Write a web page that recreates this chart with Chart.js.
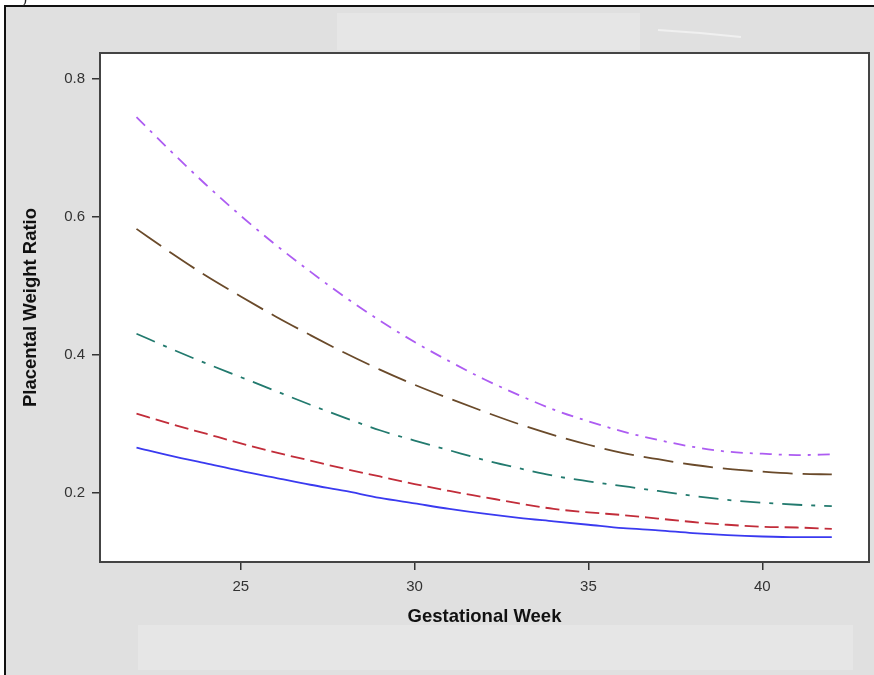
<!DOCTYPE html>
<html>
<head>
<meta charset="utf-8">
<title>Placental Weight Ratio by Gestational Week</title>
<script src="https://cdn.jsdelivr.net/npm/chart.js@4.4.1/dist/chart.umd.min.js"></script>
<style>
    body { margin: 0; background: #ffffff; }
    #wrap { position: relative; width: 874px; height: 675px; overflow: hidden; }
    #chart { position: absolute; left: 0; top: 0; }
    #paren { position: absolute; left: 22px; top: -10px; font: 15px "Liberation Serif", serif; color: #222; }
</style>
</head>
<body>
<div id="wrap">
    <canvas id="chart" width="874" height="675"></canvas>
    <span id="paren">)</span>
</div>
<script>
// Gestational weeks on the x axis
const weeks = [22, 23, 24, 25, 26, 27, 28, 29, 30, 31, 32, 33, 34, 35, 36, 37, 38, 39, 40, 41, 42];

// Placental weight ratio curves, lowest to highest
const curveA = [0.266, 0.254, 0.243, 0.232, 0.222, 0.212, 0.203, 0.193, 0.185, 0.177, 0.170,
                0.164, 0.159, 0.154, 0.149, 0.146, 0.142, 0.139, 0.137, 0.136, 0.136];
const curveB = [0.315, 0.300, 0.286, 0.272, 0.259, 0.247, 0.235, 0.224, 0.213, 0.203, 0.194,
                0.185, 0.177, 0.172, 0.168, 0.163, 0.158, 0.154, 0.151, 0.150, 0.148];
const curveC = [0.431, 0.409, 0.388, 0.368, 0.348, 0.328, 0.309, 0.291, 0.276, 0.262, 0.248,
                0.236, 0.225, 0.217, 0.210, 0.203, 0.196, 0.190, 0.186, 0.183, 0.181];
const curveD = [0.583, 0.548, 0.515, 0.485, 0.456, 0.429, 0.403, 0.379, 0.357, 0.337, 0.318,
                0.300, 0.284, 0.270, 0.258, 0.249, 0.241, 0.235, 0.231, 0.228, 0.227];
const curveE = [0.745, 0.695, 0.647, 0.602, 0.560, 0.521, 0.484, 0.450, 0.419, 0.391, 0.365,
                0.342, 0.321, 0.304, 0.289, 0.277, 0.267, 0.260, 0.257, 0.255, 0.256];

const xTicks = [25, 30, 35, 40];
const yTicks = [0.2, 0.4, 0.6, 0.8];

function toPoints(values) {
    return weeks.map((w, i) => ({ x: w, y: values[i] }));
}

function makeSeries(values, color, dash) {
    return {
        data: toPoints(values),
        borderColor: color,
        borderWidth: 1.8,
        borderDash: dash,
        pointRadius: 0,
        fill: false,
        cubicInterpolationMode: 'monotone'
    };
}

// Gray panel, outer frame and the white plotting box
const panel = {
    id: 'panel',
    beforeDraw(chart) {
        const ctx = chart.ctx;
        const a = chart.chartArea;
        ctx.save();
        ctx.fillStyle = '#ffffff';
        ctx.fillRect(0, 0, chart.width, chart.height);
        ctx.fillStyle = '#e0e0e0';
        ctx.fillRect(5, 6, chart.width, chart.height);
        ctx.fillStyle = '#e6e6e6';
        ctx.fillRect(337, 13, 303, 37);
        ctx.fillRect(138, 625, 715, 45);
        ctx.strokeStyle = '#f0f0f0';
        ctx.lineWidth = 2;
        ctx.beginPath();
        ctx.moveTo(658, 30);
        ctx.lineTo(700, 33);
        ctx.lineTo(741, 37);
        ctx.stroke();
        ctx.strokeStyle = '#111111';
        ctx.lineWidth = 2;
        ctx.beginPath();
        ctx.moveTo(5, chart.height);
        ctx.lineTo(5, 6);
        ctx.lineTo(chart.width, 6);
        ctx.stroke();
        ctx.fillStyle = '#ffffff';
        ctx.fillRect(a.left, a.top, a.right - a.left, a.bottom - a.top);
        ctx.restore();
    },
    afterDatasetsDraw(chart) {
        const ctx = chart.ctx;
        const a = chart.chartArea;
        ctx.save();
        ctx.strokeStyle = '#444444';
        ctx.lineWidth = 2;
        ctx.strokeRect(a.left, a.top, a.right - a.left, a.bottom - a.top);
        ctx.restore();
    }
};

const tickFont = { family: '"Liberation Sans", Arial, sans-serif', size: 15 };
const titleFont = { family: '"Liberation Sans", Arial, sans-serif', size: 18.5, weight: 'bold' };

new Chart(document.getElementById('chart'), {
    type: 'line',
    data: {
        datasets: [
            makeSeries(curveA, '#3a3af0', []),
            makeSeries(curveB, '#c22d3a', [14, 6]),
            makeSeries(curveC, '#227a6e', [20, 9, 4, 9]),
            makeSeries(curveD, '#6a4a2a', [30, 10]),
            makeSeries(curveE, '#ad5cf2', [12, 7, 3, 7])
        ]
    },
    options: {
        responsive: false,
        animation: false,
        layout: { padding: { left: 0, top: 53, right: 5, bottom: 40 } },
        plugins: {
            legend: { display: false },
            tooltip: { enabled: false }
        },
        scales: {
            x: {
                type: 'linear',
                min: 20.95,
                max: 43.07,
                afterBuildTicks: (axis) => { axis.ticks = xTicks.map(v => ({ value: v })); },
                afterFit: (axis) => { axis.height = 675 - 40 - 562; },
                border: { display: false },
                grid: { drawOnChartArea: false, drawTicks: true, tickLength: 8, color: '#333333', lineWidth: 1.5 },
                ticks: { font: tickFont, color: '#333333', padding: 8, maxRotation: 0 },
                title: { display: true, text: 'Gestational Week', font: titleFont, color: '#111111', padding: { top: 0, bottom: 7 } }
            },
            y: {
                min: 0.1,
                max: 0.838,
                afterBuildTicks: (axis) => { axis.ticks = yTicks.map(v => ({ value: v })); },
                afterFit: (axis) => { axis.width = 100; },
                border: { display: false },
                grid: { drawOnChartArea: false, drawTicks: true, tickLength: 8, color: '#333333', lineWidth: 1.5 },
                ticks: { font: tickFont, color: '#333333', padding: 7, callback: (v) => v.toFixed(1) },
                title: { display: true, text: 'Placental Weight Ratio', font: titleFont, color: '#111111', padding: { top: 20, bottom: 0 } }
            }
        }
    },
    plugins: [panel]
});
</script>
</body>
</html>
